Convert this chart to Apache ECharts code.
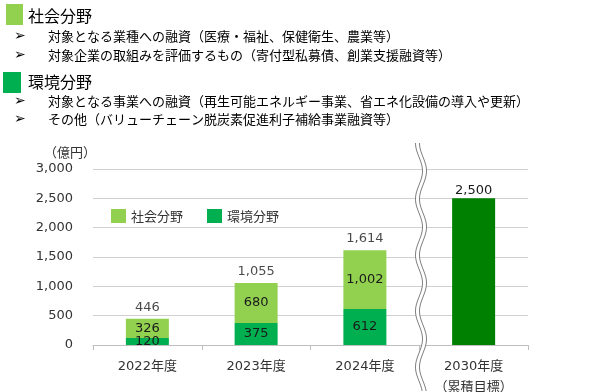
<!DOCTYPE html>
<html>
<head>
<meta charset="utf-8">
<script src="https://cdn.jsdelivr.net/npm/echarts@6/dist/echarts.min.js"></script>
<style>
html,body{margin:0;padding:0;background:#fff;}
#chart{width:600px;height:392px;}
</style>
</head>
<body>
<div id="chart"></div>
<script>
// ---- data ----
var categories = ['2022年度', '2023年度', '2024年度', '2030年度\n（累積目標）'];
var envValues = [120, 375, 612, '-'];        // 環境分野
var socValues = [326, 680, 1002, '-'];       // 社会分野
var totals = [446, 1055, 1614, '-'];         // 合計
var targetValues = ['-', '-', '-', 2500];    // 2030年度 累積目標
var yTicks = [0, 500, 1000, 1500, 2000, 2500, 3000];

var headerTitles = ['社会分野', '環境分野'];
var headerLines = [
  ['対象となる業種への融資（医療・福祉、保健衛生、農業等）',
   '対象企業の取組みを評価するもの（寄付型私募債、創業支援融資等）'],
  ['対象となる事業への融資（再生可能エネルギー事業、省エネ化設備の導入や更新）',
   'その他（バリューチェーン脱炭素促進利子補給事業融資等）']
];

var C_SOC = '#92D050', C_ENV = '#00B050', C_TGT = '#008000';
var NUM_FONT = "'DejaVu Sans','Noto Sans CJK JP',sans-serif";
var JP_FONT = "'Noto Sans CJK JP','DejaVu Sans',sans-serif";
function fmt(v){ return Number(v).toLocaleString('en-US'); }

var chart = echarts.init(document.getElementById('chart'), null, {renderer:'canvas'});

// ---- header graphics ----
var graphics = [];
var headerLayout = [
  {sq:{x:6,y:4,w:17,h:21,c:C_SOC}, titleY:16, lineY:[36,55]},
  {sq:{x:3,y:72,w:18,h:21,c:C_ENV}, titleY:82, lineY:[101,119]}
];
headerLayout.forEach(function(h, i){
  graphics.push({type:'rect', shape:{x:h.sq.x,y:h.sq.y,width:h.sq.w,height:h.sq.h}, style:{fill:h.sq.c}});
  graphics.push({type:'text', x:28, y:h.titleY, style:{text:headerTitles[i], font:"16px "+JP_FONT, fill:'#000', textVerticalAlign:'middle'}});
  headerLines[i].forEach(function(t, j){
    graphics.push({type:'text', x:14, y:h.lineY[j], style:{text:'➢', font:"bold 14px 'DejaVu Sans'", fill:'#000', textVerticalAlign:'middle'}});
    graphics.push({type:'text', x:48, y:h.lineY[j], style:{text:t, font:"13px "+JP_FONT, fill:'#000', textVerticalAlign:'middle'}});
  });
});
// unit label
graphics.push({type:'text', x:44, y:152, style:{text:'（億円）', font:"13px "+JP_FONT, fill:'#333', textVerticalAlign:'middle'}});

// ---- axis break (decoration) ----
(function(){
  var left = [], right = [], poly = [];
  var cx = 421, amp = 3.5, period = 56, gap = 4;
  for (var y = 143; y <= 392; y += 2) {
    var x = cx + amp * Math.sin(2*Math.PI*(y-143)/period - Math.PI/2);
    left.push([x - gap/2, y]);
    right.push([x + gap/2, y]);
  }
  poly = left.concat(right.slice().reverse());
  graphics.push({type:'polygon', shape:{points:poly}, style:{fill:'#fff', stroke:null}, z:100});
  graphics.push({type:'polyline', shape:{points:left}, style:{stroke:'#7f7f7f', lineWidth:1, fill:null}, z:101});
  graphics.push({type:'polyline', shape:{points:right}, style:{stroke:'#7f7f7f', lineWidth:1, fill:null}, z:101});
})();

var barLabel = {show:true, position:'inside', color:'#1a1a1a', fontFamily:NUM_FONT, fontSize:13,
  formatter:function(p){ return fmt(p.value); }};

var option = {
  animation:false,
  textStyle:{fontFamily:NUM_FONT},
  grid:{left:93, right:72, top:169, bottom:47, containLabel:false, outerBoundsMode:'none'},
  legend:{
    data:['社会分野','環境分野'], left:106, top:204, icon:'rect', itemWidth:15, itemHeight:14, itemGap:24,
    textStyle:{fontFamily:JP_FONT, fontSize:13, color:'#333'}
  },
  xAxis:{
    type:'category', data:categories,
    axisLine:{lineStyle:{color:'#bfbfbf'}},
    axisTick:{show:true, length:5, lineStyle:{color:'#bfbfbf'}},
    axisLabel:{color:'#333', fontSize:13, fontFamily:NUM_FONT, margin:11, lineHeight:21}
  },
  yAxis:{
    type:'value', min:0, max:3000, interval:500,
    axisLine:{show:false}, axisTick:{show:false},
    splitLine:{lineStyle:{color:'#d0d0d0'}},
    axisLabel:{color:'#333', fontSize:13, fontFamily:NUM_FONT, margin:20,
      formatter:function(v){ return fmt(v); }}
  },
  series:[
    {name:'環境分野', type:'bar', stack:'a', barWidth:43, data:envValues, itemStyle:{color:C_ENV}, label:barLabel},
    {name:'社会分野', type:'bar', stack:'a', barWidth:43, data:socValues, itemStyle:{color:C_SOC}, label:barLabel},
    {name:'目標', type:'bar', stack:'a', barWidth:43, data:targetValues, itemStyle:{color:C_TGT},
      label:{show:true, position:'top', distance:1, color:'#1a1a1a', fontFamily:NUM_FONT, fontSize:13,
        formatter:function(p){ return fmt(p.value); }}},
    {name:'合計', type:'scatter', data:totals, symbolSize:0, silent:true,
      label:{show:true, position:'top', distance:5, color:'#1a1a1a', fontFamily:NUM_FONT, fontSize:13,
        formatter:function(p){ return fmt(p.value); }}}
  ],
  graphic:graphics
};
chart.setOption(option);
</script>
</body>
</html>
